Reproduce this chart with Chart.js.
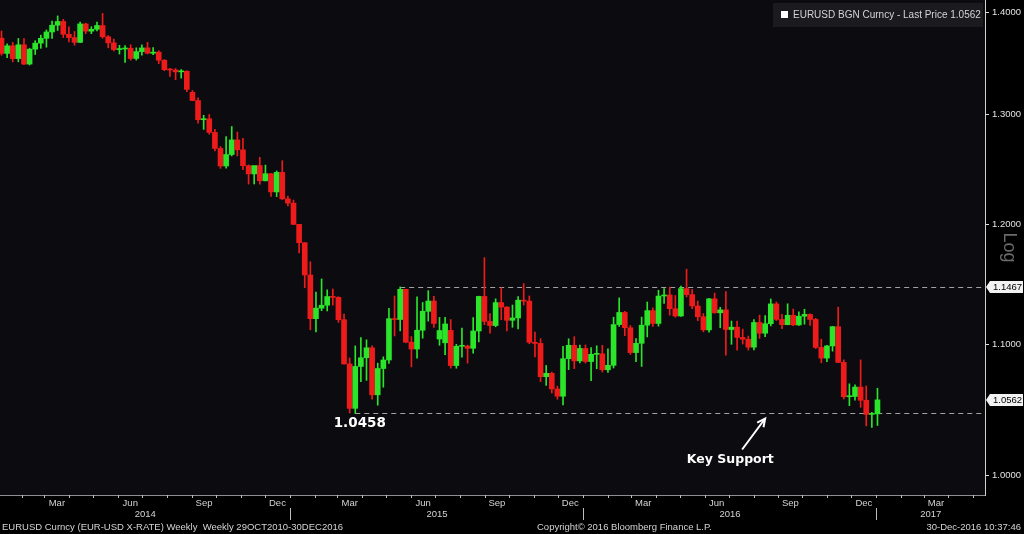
<!DOCTYPE html>
<html>
<head>
<meta charset="utf-8">
<title>EURUSD weekly</title>
<script src="https://cdn.jsdelivr.net/npm/chart.js@4.4.1/dist/chart.umd.min.js"></script>
<style>
  html, body { margin: 0; padding: 0; background: #000; }
  #wrap { width: 1024px; height: 534px; }
</style>
</head>
<body>
<div id="wrap"><canvas id="fx" width="1024" height="534"></canvas></div>
<script>
// weekly bars, index 0 = week ending Fri 3-Jan-2014, last = 30-Dec-2016
var FIRST_WEEK = [2014, 0, 3];

var OPEN = [
  1.3743, 1.3591, 1.3667, 1.3540, 1.3677, 1.3486, 1.3633, 1.3693, 1.3741, 1.3805,
  1.3873, 1.3911, 1.3782, 1.3749, 1.3701, 1.3886, 1.3813, 1.3832, 1.3870, 1.3757,
  1.3696, 1.3629, 1.3635, 1.3643, 1.3541, 1.3609, 1.3646, 1.3593, 1.3604, 1.3524,
  1.3431, 1.3428, 1.3410, 1.3416, 1.3212, 1.3133, 1.2951, 1.2960, 1.2832, 1.2683,
  1.2522, 1.2627, 1.2762, 1.2670, 1.2525, 1.2450, 1.2526, 1.2388, 1.2452, 1.2288,
  1.2464, 1.2226, 1.2188, 1.2001, 1.1842, 1.1567, 1.1205, 1.1291, 1.1315, 1.1387,
  1.1380, 1.1197, 1.0842, 1.0497, 1.0822, 1.0891, 1.0970, 1.0601, 1.0806, 1.0873,
  1.1205, 1.1198, 1.1447, 1.1015, 1.0960, 1.1111, 1.1265, 1.1350, 1.1040, 1.1010,
  1.1110, 1.0829, 1.0982, 1.0984, 1.0966, 1.1105, 1.1388, 1.1183, 1.1149, 1.1337,
  1.1300, 1.1192, 1.1211, 1.1357, 1.1349, 1.1014, 1.1005, 1.0742, 1.0768, 1.0646,
  1.0590, 1.0883, 1.0990, 1.0866, 1.0965, 1.0861, 1.0918, 1.0922, 1.0796, 1.0831,
  1.1157, 1.1256, 1.1131, 1.0932, 1.1006, 1.1152, 1.1271, 1.1166, 1.1391, 1.1400,
  1.1287, 1.1227, 1.1453, 1.1403, 1.1309, 1.1221, 1.1114, 1.1368, 1.1253, 1.1277,
  1.1117, 1.1136, 1.1053, 1.1039, 1.0975, 1.1174, 1.1087, 1.1164, 1.1326, 1.1199,
  1.1156, 1.1233, 1.1154, 1.1225, 1.1240, 1.1199, 1.0973, 1.0888, 1.0985, 1.1140,
  1.0854, 1.0586, 1.0588, 1.0661, 1.0559, 1.0451, 1.0455
];
var HIGH = [
  1.3815, 1.3687, 1.3700, 1.3740, 1.3740, 1.3643, 1.3718, 1.3773, 1.3825, 1.3915,
  1.3967, 1.3933, 1.3857, 1.3810, 1.3906, 1.3894, 1.3858, 1.3905, 1.3993, 1.3770,
  1.3734, 1.3671, 1.3670, 1.3677, 1.3647, 1.3677, 1.3701, 1.3650, 1.3617, 1.3531,
  1.3444, 1.3443, 1.3433, 1.3420, 1.3230, 1.3160, 1.2993, 1.3000, 1.2860, 1.2700,
  1.2792, 1.2887, 1.2835, 1.2777, 1.2532, 1.2508, 1.2601, 1.2530, 1.2456, 1.2477,
  1.2570, 1.2250, 1.2215, 1.2002, 1.1843, 1.1679, 1.1423, 1.1534, 1.1443, 1.1450,
  1.1386, 1.1243, 1.0889, 1.0985, 1.1052, 1.1034, 1.0985, 1.0848, 1.0898, 1.1290,
  1.1391, 1.1467, 1.1448, 1.1060, 1.1385, 1.1338, 1.1436, 1.1388, 1.1215, 1.1216,
  1.1198, 1.0998, 1.1129, 1.0991, 1.1214, 1.1390, 1.1714, 1.1246, 1.1368, 1.1460,
  1.1305, 1.1317, 1.1387, 1.1495, 1.1392, 1.1097, 1.1043, 1.0830, 1.0778, 1.0668,
  1.0981, 1.1042, 1.1059, 1.0992, 1.0993, 1.0971, 1.0986, 1.0990, 1.0962, 1.1217,
  1.1376, 1.1265, 1.1149, 1.1043, 1.1218, 1.1342, 1.1294, 1.1439, 1.1453, 1.1465,
  1.1395, 1.1475, 1.1616, 1.1446, 1.1349, 1.1247, 1.1373, 1.1416, 1.1298, 1.1428,
  1.1186, 1.1186, 1.1120, 1.1064, 1.1198, 1.1234, 1.1230, 1.1367, 1.1342, 1.1240,
  1.1327, 1.1284, 1.1260, 1.1282, 1.1245, 1.1208, 1.1039, 1.0990, 1.1142, 1.1300,
  1.0874, 1.0686, 1.0678, 1.0874, 1.0669, 1.0467, 1.0652
];
var LOW = [
  1.3573, 1.3548, 1.3508, 1.3508, 1.3480, 1.3477, 1.3580, 1.3642, 1.3653, 1.3740,
  1.3820, 1.3749, 1.3705, 1.3672, 1.3697, 1.3788, 1.3788, 1.3816, 1.3742, 1.3647,
  1.3615, 1.3585, 1.3503, 1.3524, 1.3525, 1.3574, 1.3587, 1.3578, 1.3490, 1.3421,
  1.3366, 1.3333, 1.3349, 1.3218, 1.3131, 1.2918, 1.2860, 1.2815, 1.2659, 1.2500,
  1.2502, 1.2614, 1.2614, 1.2488, 1.2358, 1.2359, 1.2357, 1.2386, 1.2247, 1.2246,
  1.2220, 1.2163, 1.1999, 1.1754, 1.1460, 1.1114, 1.1098, 1.1270, 1.1268, 1.1316,
  1.1175, 1.0840, 1.0462, 1.0458, 1.0702, 1.0713, 1.0568, 1.0521, 1.0660, 1.0846,
  1.1065, 1.1106, 1.1010, 1.0819, 1.0888, 1.1047, 1.1185, 1.1134, 1.0990, 1.0916,
  1.0809, 1.0808, 1.0896, 1.0848, 1.0927, 1.1017, 1.1156, 1.1087, 1.1139, 1.1197,
  1.1105, 1.1135, 1.1122, 1.1317, 1.1002, 1.0897, 1.0703, 1.0674, 1.0615, 1.0567,
  1.0524, 1.0797, 1.0805, 1.0850, 1.0849, 1.0711, 1.0804, 1.0778, 1.0775, 1.0810,
  1.1142, 1.1067, 1.0916, 1.0859, 1.0822, 1.1057, 1.1143, 1.1144, 1.1331, 1.1234,
  1.1217, 1.1224, 1.1384, 1.1286, 1.1189, 1.1098, 1.1095, 1.1250, 1.1131, 1.0912,
  1.0998, 1.0952, 1.1000, 1.0952, 1.0954, 1.1045, 1.1060, 1.1146, 1.1190, 1.1123,
  1.1155, 1.1147, 1.1150, 1.1160, 1.1150, 1.0964, 1.0851, 1.0860, 1.0943, 1.0851,
  1.0569, 1.0518, 1.0560, 1.0505, 1.0364, 1.0352, 1.0367
];
var CLOSE = [
  1.3591, 1.3667, 1.3540, 1.3677, 1.3486, 1.3633, 1.3693, 1.3741, 1.3805, 1.3873,
  1.3911, 1.3782, 1.3749, 1.3701, 1.3886, 1.3813, 1.3832, 1.3870, 1.3757, 1.3696,
  1.3629, 1.3635, 1.3643, 1.3541, 1.3609, 1.3646, 1.3593, 1.3604, 1.3524, 1.3431,
  1.3428, 1.3410, 1.3416, 1.3240, 1.3133, 1.2951, 1.2960, 1.2832, 1.2683, 1.2522,
  1.2627, 1.2762, 1.2670, 1.2525, 1.2450, 1.2526, 1.2388, 1.2452, 1.2288, 1.2464,
  1.2226, 1.2188, 1.2001, 1.1842, 1.1567, 1.1205, 1.1291, 1.1315, 1.1387, 1.1380,
  1.1197, 1.0842, 1.0497, 1.0822, 1.0891, 1.0970, 1.0601, 1.0806, 1.0873, 1.1205,
  1.1198, 1.1447, 1.1015, 1.0960, 1.1111, 1.1265, 1.1350, 1.1166, 1.1109, 1.1162,
  1.0829, 1.0982, 1.0984, 1.0966, 1.1105, 1.1388, 1.1183, 1.1149, 1.1337, 1.1300,
  1.1192, 1.1211, 1.1357, 1.1349, 1.1014, 1.1005, 1.0742, 1.0768, 1.0646, 1.0590,
  1.0883, 1.0990, 1.0866, 1.0965, 1.0861, 1.0918, 1.0922, 1.0796, 1.0831, 1.1157,
  1.1256, 1.1131, 1.0932, 1.1006, 1.1152, 1.1271, 1.1166, 1.1391, 1.1400, 1.1287,
  1.1227, 1.1453, 1.1403, 1.1309, 1.1221, 1.1114, 1.1368, 1.1253, 1.1277, 1.1117,
  1.1136, 1.1053, 1.1039, 1.0975, 1.1174, 1.1087, 1.1164, 1.1326, 1.1199, 1.1156,
  1.1233, 1.1154, 1.1225, 1.1240, 1.1199, 1.0973, 1.0888, 1.0985, 1.1140, 1.0854,
  1.0586, 1.0588, 1.0661, 1.0559, 1.0451, 1.0455, 1.0562
];

var Y_TICKS = [1.0000, 1.1000, 1.2000, 1.3000, 1.4000];
var MONTH_NAMES = ["Jan", "Feb", "Mar", "Apr", "May", "Jun", "Jul", "Aug", "Sep", "Oct", "Nov", "Dec"];
var LABELED_MONTHS = [2, 5, 8, 11];
var YEARS = [2014, 2015, 2016, 2017];

var SUPPORT = 1.0458;      // Mar-2015 low
var RESISTANCE = 1.1467;   // May-2015 high
var LAST_PRICE = 1.0562;
var SUPPORT_WEEK = 63;
var RESISTANCE_WEEK = 71;

var UP = "#2ae52a";
var DOWN = "#ee1b1b";
var TEXT = "#d4d4d4";
var SMALL_FONT = "Liberation Sans";

// ---------- time helpers (x axis is in week units) ----------
var DAY = 86400000;
var T0 = Date.UTC(FIRST_WEEK[0], FIRST_WEEK[1], FIRST_WEEK[2]);

// a date's place on the week axis; bars sit on their Friday, month edges fall half a bar earlier
function weekPos(y, m, d) {
  return (Date.UTC(y, m, d) - T0) / DAY / 7 - 0.5;
}

var monthEdges = [];
var monthTicks = [];
YEARS.forEach(function (y) {
  for (var m = 0; m < 12; m++) {
    if (y === 2017 && m > 4) break;
    monthEdges.push({ pos: weekPos(y, m, 1), month: m, year: y });
    if (LABELED_MONTHS.indexOf(m) >= 0) {
      monthTicks.push({
        pos: (weekPos(y, m, 1) + weekPos(y, m + 1, 1)) / 2,
        name: MONTH_NAMES[m]
      });
    }
  }
});

// ---------- candle data ----------
var wickData = [];
var bodyData = [];
for (var i = 0; i < OPEN.length; i++) {
  wickData.push({ x: i, y: [LOW[i], HIGH[i]] });
  bodyData.push({ x: i, y: [OPEN[i], CLOSE[i]] });
}

function candleColor(ctx) {
  var k = ctx.dataIndex;
  if (k === undefined) return DOWN;
  return CLOSE[k] >= OPEN[k] ? UP : DOWN;
}

function crisp(v) { return Math.round(v) + 0.5; }

// ---------- everything around the candles (bloomberg chrome) ----------
var decor = {
  id: "decor",
  beforeDraw: function (chart) {
    var c = chart.ctx, a = chart.chartArea;
    c.save();
    c.fillStyle = "#000";
    c.fillRect(0, 0, chart.width, chart.height);
    c.fillStyle = "#0b0b10";
    c.fillRect(a.left, a.top, a.right - a.left, a.bottom - a.top);
    c.restore();
  },
  beforeDatasetsDraw: function (chart) {
    var c = chart.ctx, a = chart.chartArea;
    var xs = chart.scales.x, ys = chart.scales.y;
    c.save();
    c.strokeStyle = "#a2a2a2";
    c.lineWidth = 1;
    c.setLineDash([5, 4]);
    [[RESISTANCE, RESISTANCE_WEEK], [SUPPORT, SUPPORT_WEEK]].forEach(function (l) {
      var y = crisp(ys.getPixelForValue(l[0]));
      c.beginPath();
      c.moveTo(xs.getPixelForValue(l[1]), y);
      c.lineTo(a.right, y);
      c.stroke();
    });
    c.restore();
  },
  afterDraw: function (chart) {
    var c = chart.ctx, a = chart.chartArea;
    var xs = chart.scales.x, ys = chart.scales.y;
    var sy = ys.getPixelForValue(SUPPORT);
    c.save();

    // support value + "Key Support" with arrow
    c.fillStyle = "#ffffff";
    c.textAlign = "center";
    c.textBaseline = "middle";
    c.font = "bold 13.5px 'DejaVu Sans'";
    c.fillText(SUPPORT.toFixed(4), xs.getPixelForValue(SUPPORT_WEEK + 0.8), sy + 10);
    c.font = "bold 12.5px 'DejaVu Sans'";
    c.fillText("Key Support", xs.getPixelForValue(129.8), sy + 46);

    var tx = xs.getPixelForValue(136), ty = sy + 5;
    var fx = xs.getPixelForValue(131.9), fy = sy + 36;
    var ang = Math.atan2(ty - fy, tx - fx);
    c.strokeStyle = "#ffffff";
    c.lineWidth = 2;
    c.beginPath();
    c.moveTo(fx, fy);
    c.lineTo(tx, ty);
    c.moveTo(tx - 9 * Math.cos(ang - 0.45), ty - 9 * Math.sin(ang - 0.45));
    c.lineTo(tx, ty);
    c.lineTo(tx - 9 * Math.cos(ang + 0.45), ty - 9 * Math.sin(ang + 0.45));
    c.stroke();

    // legend box top right
    var lx = a.right - 212, ly = a.top + 3;
    c.fillStyle = "#1a1a1f";
    c.fillRect(lx, ly, 210, 24);
    c.fillStyle = "#ffffff";
    c.fillRect(lx + 8, ly + 8, 7, 7);
    c.fillStyle = TEXT;
    c.textAlign = "left";
    c.font = "10px '" + SMALL_FONT + "'";
    c.fillText("EURUSD BGN Curncy - Last Price " + LAST_PRICE.toFixed(4), lx + 20, ly + 12);

    // price tags on the axis
    [RESISTANCE, LAST_PRICE].forEach(function (v) {
      var y = Math.round(ys.getPixelForValue(v));
      var x0 = a.right + 1;
      c.fillStyle = "#f2f2f2";
      c.beginPath();
      c.moveTo(x0, y);
      c.lineTo(x0 + 4, y - 6);
      c.lineTo(chart.width - 1, y - 6);
      c.lineTo(chart.width - 1, y + 6);
      c.lineTo(x0 + 4, y + 6);
      c.closePath();
      c.fill();
      c.fillStyle = "#000";
      c.font = "9.5px '" + SMALL_FONT + "'";
      c.fillText(v.toFixed(4), x0 + 7, y + 0.5);
    });

    // "Log" marker on the y axis
    c.save();
    c.translate(a.right + 24, (a.top + a.bottom) / 2);
    c.rotate(Math.PI / 2);
    c.fillStyle = "#6a6a6a";
    c.textAlign = "center";
    c.font = "18px '" + SMALL_FONT + "'";
    c.fillText("Log", 0, 0);
    c.restore();

    // month edges, year separators and year labels
    var b = a.bottom;
    c.strokeStyle = "#bdbdbd";
    c.lineWidth = 1;
    var yearEdges = [];
    monthEdges.forEach(function (me) {
      var px = crisp(xs.getPixelForValue(me.pos));
      if (px < a.left || px > a.right) return;
      c.beginPath();
      c.moveTo(px, b);
      c.lineTo(px, b + 3);
      if (me.month === 0) {
        c.moveTo(px, b + 13);
        c.lineTo(px, b + 25);
        yearEdges.push({ year: me.year, px: px });
      }
      c.stroke();
    });
    c.fillStyle = TEXT;
    c.textAlign = "center";
    c.font = "9.5px '" + SMALL_FONT + "'";
    var starts = [{ year: YEARS[0], px: a.left }].concat(yearEdges);
    starts.forEach(function (s, k) {
      var end = k + 1 < starts.length ? starts[k + 1].px : a.right;
      c.fillText(String(s.year), (s.px + end) / 2, b + 19);
    });

    // footer
    var fyy = b + 32;
    c.textAlign = "left";
    c.fillText("EURUSD Curncy (EUR-USD X-RATE) Weekly  Weekly 29OCT2010-30DEC2016", 2, fyy);
    c.fillText("Copyright\u00A9 2016 Bloomberg Finance L.P.", 537, fyy);
    c.textAlign = "right";
    c.fillText("30-Dec-2016 10:37:46", chart.width - 3, fyy);

    c.restore();
  }
};

var ctx = document.getElementById("fx").getContext("2d");
new Chart(ctx, {
  type: "bar",
  data: {
    datasets: [
      {
        label: "wick",
        data: wickData,
        backgroundColor: candleColor,
        barThickness: 1,
        grouped: false,
        order: 2
      },
      {
        label: "body",
        data: bodyData,
        backgroundColor: candleColor,
        barThickness: 5,
        minBarLength: 1,
        grouped: false,
        order: 1
      }
    ]
  },
  options: {
    responsive: false,
    animation: false,
    devicePixelRatio: 1,
    layout: { padding: 0 },
    plugins: {
      legend: { display: false },
      tooltip: { enabled: false }
    },
    scales: {
      x: {
        type: "linear",
        min: -0.27,
        max: 175.15,
        offset: false,
        grid: { display: false, drawTicks: false },
        border: { display: true, color: "#8e8e8e", width: 1 },
        afterBuildTicks: function (s) {
          s.ticks = monthTicks.map(function (t) { return { value: t.pos }; });
        },
        afterFit: function (s) {
          s.height = 39;
          s.paddingLeft = 0;
          s.paddingRight = 0;
        },
        ticks: {
          autoSkip: false,
          maxRotation: 0,
          padding: 3,
          color: TEXT,
          font: { family: SMALL_FONT, size: 9.5 },
          callback: function (v, k) {
            return monthTicks[k] ? monthTicks[k].name : "";
          }
        }
      },
      y: {
        type: "logarithmic",
        position: "right",
        min: 0.98555,
        max: 1.4130,
        grid: { drawOnChartArea: false, drawTicks: true, tickLength: 4, color: "#dedede" },
        border: { display: true, color: "#cfcfcf", width: 1 },
        afterBuildTicks: function (s) {
          s.ticks = Y_TICKS.map(function (v) { return { value: v }; });
        },
        afterFit: function (s) {
          s.width = 39;
          s.paddingTop = 0;
          s.paddingBottom = 0;
        },
        ticks: {
          padding: 3,
          color: "#e2e2e2",
          font: { family: SMALL_FONT, size: 9.5 },
          callback: function (v) { return Number(v).toFixed(4); }
        }
      }
    }
  },
  plugins: [decor]
});
</script>
</body>
</html>
